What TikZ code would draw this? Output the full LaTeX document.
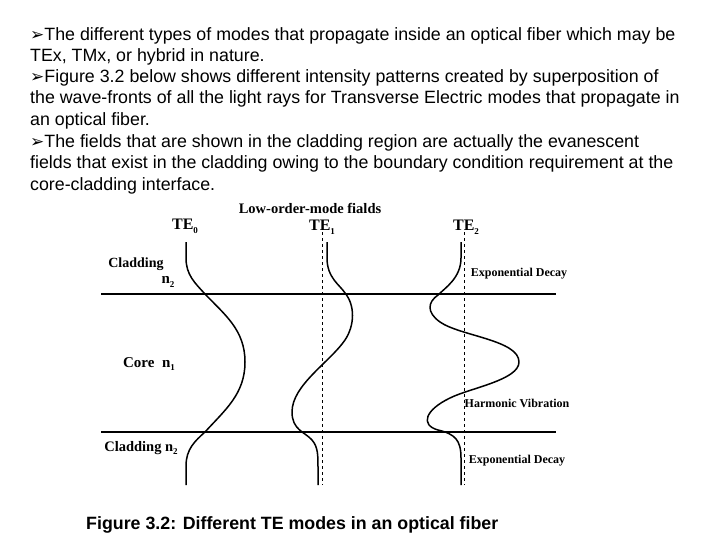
\documentclass[tikz,border=0pt]{standalone}
\usepackage{fontspec}
\setmainfont{Liberation Sans}
\newfontfamily\tms{Liberation Serif}
\newfontfamily\djfont{DejaVu Sans}
\begin{document}
\begin{tikzpicture}[x=1pt,y=-1pt,
  txt/.style={anchor=west,inner sep=0,font=\fontsize{17.8}{20}\selectfont},
  lbl/.style={inner sep=0,font=\tms\bfseries\fontsize{12}{13}\selectfont},
  curve/.style={line width=1.5pt,line join=round},
  axis/.style={line width=1.4pt},
  guide/.style={dashed,line width=0.7pt}]
\useasboundingbox (0,0) rectangle (720,540);
\fill[white] (0,0) rectangle (720,540);
\newcommand\myar{{\djfont\bfseries\fontsize{17}{17}\selectfont\char"27A2}}
\newcommand\sbs[1]{\raisebox{-0.25em}{\fontsize{9}{9}\selectfont #1}}
\node[txt] (l1) at (30,36) {\myar The different types of modes that propagate inside an optical fiber which may be};
\node[txt] (l2) at (30,57) {TEx, TMx, or hybrid in nature.};
\node[txt] (l3) at (30,78) {\myar Figure 3.2 below shows different intensity patterns created by superposition of};
\node[txt] (l4) at (30,99) {the wave-fronts of all the light rays for Transverse Electric modes that propagate in};
\node[txt] (l5) at (30,121) {an optical fiber.};
\node[txt] (l6) at (30,143) {\myar The fields that are shown in the cladding region are actually the evanescent};
\node[txt] (l7) at (30,164) {fields that exist in the cladding owing to the boundary condition requirement at the};
\node[txt] (l8) at (30,186) {core-cladding interface.};
\node[txt,font=\bfseries\fontsize{17.8}{20}\selectfont] (cap) at (86,525) {Figure 3.2: Different TE modes in an optical fiber};
% axes
\coordinate (t1) at (101,294); \coordinate (t2) at (556,294);
\coordinate (b1) at (101,432); \coordinate (b2) at (556,432);
\draw[axis] (t1) -- (t2);
\draw[axis] (b1) -- (b2);
\coordinate (d1a) at (322,232); \coordinate (d1b) at (322,485);
\coordinate (d2a) at (464,232); \coordinate (d2b) at (464,485);
\draw[guide] (d1a) -- (d1b);
\draw[guide] (d2a) -- (d2b);
% TE0
\draw[curve] (186,242) -- (186,258) .. controls (186,275) and (195,283) .. (205,294)
  .. controls (225,315) and (245,330) .. (245,362)
  .. controls (245,394) and (225,410) .. (205,432)
  .. controls (195,441) and (186,449) .. (186,466) -- (186,485);
% TE1
\draw[curve] (327,242) -- (327,258) .. controls (327,278) and (340,285) .. (345,293)
  .. controls (355,305) and (355,325) .. (345,340)
  .. controls (330,362) and (292,385) .. (292,412)
  .. controls (292,430) and (305,432) .. (312,440)
  .. controls (318,447) and (318,455) .. (318,468) -- (318,485);
% TE2
\draw[curve] (461,242) -- (461,258) .. controls (461,278) and (445,288) .. (438,295)
  .. controls (428,302) and (426,312) .. (440,322)
  .. controls (460,336) and (519,340) .. (519,362)
  .. controls (519,380) and (470,388) .. (450,398)
  .. controls (425,410) and (420,425) .. (438,430)
  .. controls (455,434) and (461,440) .. (461,458) -- (461,485);
% labels
\node[lbl,font=\tms\bfseries\fontsize{14.5}{15}\selectfont] (title) at (310,208) {Low-order-mode fialds};
\node[lbl,font=\tms\bfseries\fontsize{16}{16}\selectfont] (te0) at (185,226) {TE\sbs{0}};
\node[lbl,font=\tms\bfseries\fontsize{16}{16}\selectfont] (te1) at (322,227) {TE\sbs{1}};
\node[lbl,font=\tms\bfseries\fontsize{16}{16}\selectfont] (te2) at (466,227) {TE\sbs{2}};
\node[lbl,font=\tms\bfseries\fontsize{14}{14}\selectfont] (cl1) at (136,264) {Cladding};
\node[lbl,font=\tms\bfseries\fontsize{15}{15}\selectfont] (n2a) at (168,282) {n\sbs{2}};
\node[lbl,font=\tms\bfseries\fontsize{15}{15}\selectfont] (core) at (149,364) {Core\enspace n\sbs{1}};
\node[lbl,font=\tms\bfseries\fontsize{14.5}{15}\selectfont] (cl2) at (141,448) {Cladding n\sbs{2}};
\node[lbl] (ed1) at (519,274) {Exponential Decay};
\node[lbl] (hv) at (517,403) {Harmonic Vibration};
\node[lbl] (ed2) at (517,461) {Exponential Decay};
\end{tikzpicture}
\end{document}
